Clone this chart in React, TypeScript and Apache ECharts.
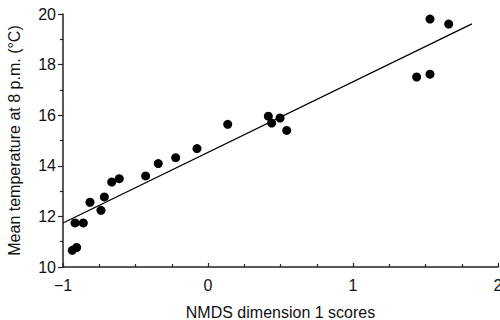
import React, { useEffect, useRef } from "react";
import * as echarts from "echarts";

const nmdsScores = [
  -0.936, -0.906, -0.917, -0.86, -0.814, -0.738, -0.715, -0.664, -0.612, -0.43,
  -0.343, -0.223, -0.076, 0.136, 0.416, 0.439, 0.497, 0.543, 1.439, 1.531, 1.531, 1.66,
];
const meanTemps = [
  10.66, 10.77, 11.74, 11.74, 12.56, 12.24, 12.77, 13.36, 13.49, 13.6,
  14.09, 14.32, 14.68, 15.64, 15.96, 15.69, 15.89, 15.4, 17.51, 17.62, 19.8, 19.6,
];
const fitIntercept = 14.53;
const fitSlope = 2.79;
const fitRange = [-1, 1.82];

const xTicks = [-1, 0, 1, 2];
const yTicks = [10, 12, 14, 16, 18, 20];

const FONT = "Liberation Sans, Arial, Helvetica, sans-serif";

export default function App() {
  const ref = useRef<HTMLDivElement>(null);
  useEffect(() => {
    if (!ref.current) return;
    const chart = echarts.init(ref.current, undefined, { renderer: "svg" });
    const points = nmdsScores.map((x, i) => [x, meanTemps[i]]);
    const fitLine = fitRange.map((x) => [x, fitIntercept + fitSlope * x]);
    chart.setOption({
      animation: false,
      grid: {
        left: 63,
        right: 2,
        top: 14,
        bottom: 53,
        containLabel: false,
        outerBoundsMode: "none",
      },
      xAxis: {
        type: "value",
        min: xTicks[0],
        max: xTicks[xTicks.length - 1],
        interval: 1,
        name: "NMDS dimension 1 scores",
        nameLocation: "middle",
        nameGap: 37,
        nameTextStyle: { fontFamily: FONT, fontSize: 16, color: "#111" },
        axisLine: { onZero: false, lineStyle: { color: "#222", width: 1.5 } },
        axisTick: { inside: true, length: 4, lineStyle: { color: "#222", width: 1.2 } },
        minorTick: { show: true, splitNumber: 4, length: 3, lineStyle: { color: "#222", width: 1.2 } },
        splitLine: { show: false },
        axisLabel: {
          margin: 10,
          fontFamily: FONT,
          fontSize: 16,
          color: "#111",
          formatter: (v: number) => String(v).replace("-", "\u2212"),
        },
      },
      yAxis: {
        type: "value",
        min: yTicks[0],
        max: yTicks[yTicks.length - 1],
        interval: 2,
        name: "Mean temperature at 8 p.m. (\u00b0C)",
        nameLocation: "middle",
        nameGap: 41,
        nameTextStyle: { fontFamily: FONT, fontSize: 16, color: "#111" },
        axisLine: { show: true, onZero: false, lineStyle: { color: "#222", width: 1.5 } },
        axisTick: { show: true, length: 5, lineStyle: { color: "#222", width: 1.2 } },
        minorTick: { show: true, splitNumber: 2, length: 3, lineStyle: { color: "#222", width: 1.2 } },
        splitLine: { show: false },
        axisLabel: { margin: 7, fontFamily: FONT, fontSize: 16, color: "#111" },
      },
      series: [
        {
          type: "line",
          data: fitLine,
          symbol: "none",
          lineStyle: { color: "#000", width: 1.3 },
          silent: true,
        },
        {
          type: "scatter",
          data: points,
          symbol: "circle",
          symbolSize: 9,
          itemStyle: { color: "#000", opacity: 1 },
        },
      ],
    });
    return () => chart.dispose();
  }, []);
  return <div ref={ref} style={{ width: 500, height: 320, position: "absolute", left: 0, top: 0 }} />;
}
